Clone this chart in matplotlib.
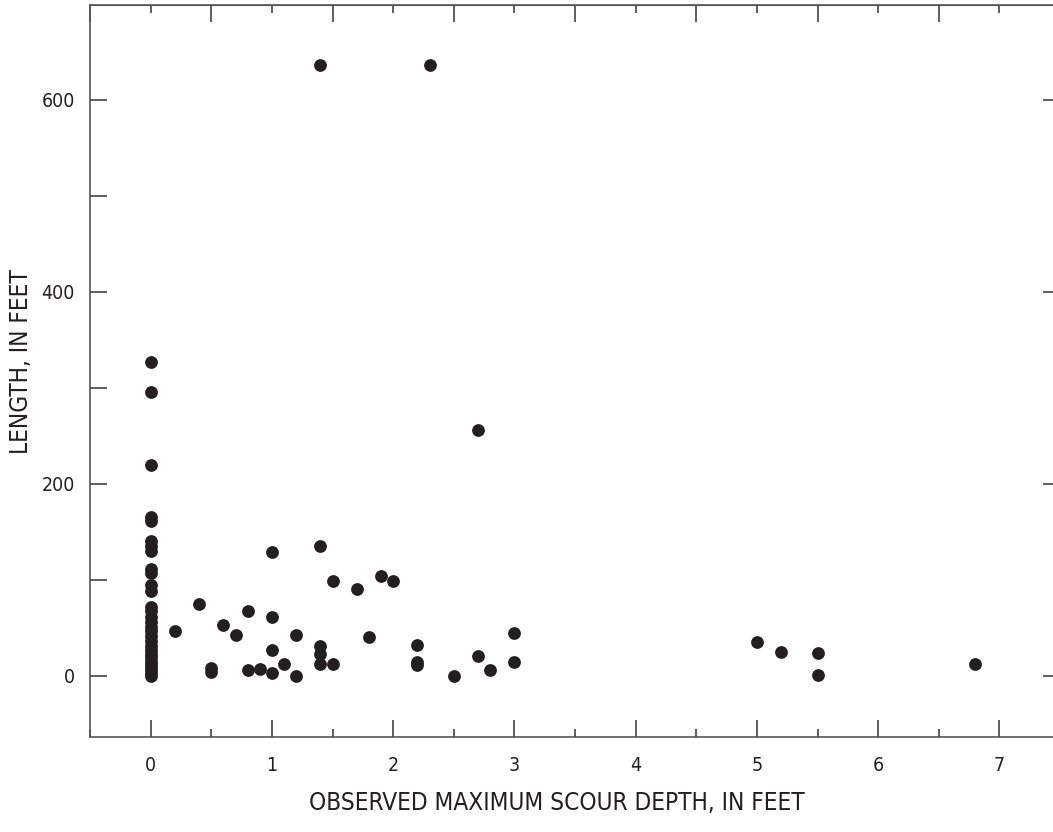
import numpy as np
import matplotlib
matplotlib.use("Agg")
import matplotlib.pyplot as plt
from matplotlib.ticker import MultipleLocator

plt.rcParams["font.family"] = ["Liberation Sans Narrow", "DejaVu Sans"]
plt.rcParams["font.stretch"] = "condensed"

# Observed scour depth (ft) and length (ft)
depth_zero_len = [327, 296, 219, 165, 161, 140, 135, 130, 111, 107, 94, 88, 72, 67,
                  61, 56, 51, 46, 41, 36, 31, 27, 23, 19, 15, 12, 9, 6, 3, 0]
depth_other = [0.2, 0.4, 0.5, 0.5, 0.6, 0.7, 0.8, 0.8, 0.9, 1.0, 1.0, 1.0, 1.0,
               1.1, 1.2, 1.2, 1.4, 1.4, 1.4, 1.4, 1.4, 1.5, 1.5, 1.7, 1.8, 1.9,
               2.0, 2.2, 2.2, 2.2, 2.3, 2.5, 2.7, 2.7, 2.8, 3.0, 3.0, 5.0, 5.2,
               5.5, 5.5, 6.8]
length_other = [46, 75, 8, 4, 53, 42, 67, 6, 7, 129, 61, 27, 3,
                12, 42, 0, 636, 135, 31, 23, 12, 99, 12, 90, 40, 104,
                99, 32, 14, 11, 636, 0, 256, 20, 6, 44, 14, 35, 25,
                24, 1, 12]

depth = [0.0] * len(depth_zero_len) + depth_other
length = depth_zero_len + length_other

fig = plt.figure(figsize=(10.53, 8.32), dpi=100)
ax = fig.add_axes([90 / 1053, 95 / 832, 970 / 1053, 732 / 832])

ax.plot(depth, length, "o", color="#231f20", markersize=9.2, markeredgewidth=0)

ax.set_xlim(-0.5, 7.5)
ax.set_ylim(-64, 699)

spine_c = "#555555"
for s in ax.spines.values():
    s.set_color(spine_c)
    s.set_linewidth(1.2)

# bottom / left axes
ax.xaxis.set_major_locator(MultipleLocator(1))
ax.xaxis.set_minor_locator(MultipleLocator(0.5))
ax.yaxis.set_major_locator(MultipleLocator(200))
ax.yaxis.set_minor_locator(MultipleLocator(100))
ax.tick_params(which="major", direction="in", length=12, width=1.1, color="#333333",
               labelsize=14, labelcolor="#231f20")
ax.tick_params(axis="x", which="major", pad=14)
ax.tick_params(axis="y", which="major", pad=11)
ax.tick_params(axis="x", which="minor", direction="in", length=6, width=1.1, color="#333333")
ax.tick_params(axis="y", which="minor", direction="in", length=12, width=1.1, color="#333333")

# top axis: long ticks on the half units
top = ax.secondary_xaxis("top")
top.xaxis.set_major_locator(MultipleLocator(1, offset=0.5))
top.xaxis.set_minor_locator(MultipleLocator(1))
top.tick_params(which="major", direction="in", length=12, width=1.1, color="#333333",
                labeltop=False)
top.tick_params(which="minor", direction="in", length=6, width=1.1, color="#333333")
top.spines["top"].set_color(spine_c)

# right axis
right = ax.secondary_yaxis("right")
right.yaxis.set_major_locator(MultipleLocator(200))
right.yaxis.set_minor_locator(MultipleLocator(100))
right.tick_params(which="major", direction="in", length=12, width=1.1, color="#333333",
                  labelright=False)
right.tick_params(which="minor", direction="in", length=2, width=0.5, color="#bbbbbb")

ax.set_xlabel("OBSERVED MAXIMUM SCOUR DEPTH, IN FEET", fontsize=17.5, color="#231f20")
ax.set_ylabel("LENGTH, IN FEET", fontsize=17.5, color="#231f20")
ax.xaxis.set_label_coords((557 - 90) / 970, (737 - 803) / 732)
ax.yaxis.set_label_coords((21 - 90) / 970, (737 - 362) / 732)
ax.xaxis.label.set_va("center")
ax.yaxis.label.set_va("center")

fig.savefig("out.png", dpi=100)
